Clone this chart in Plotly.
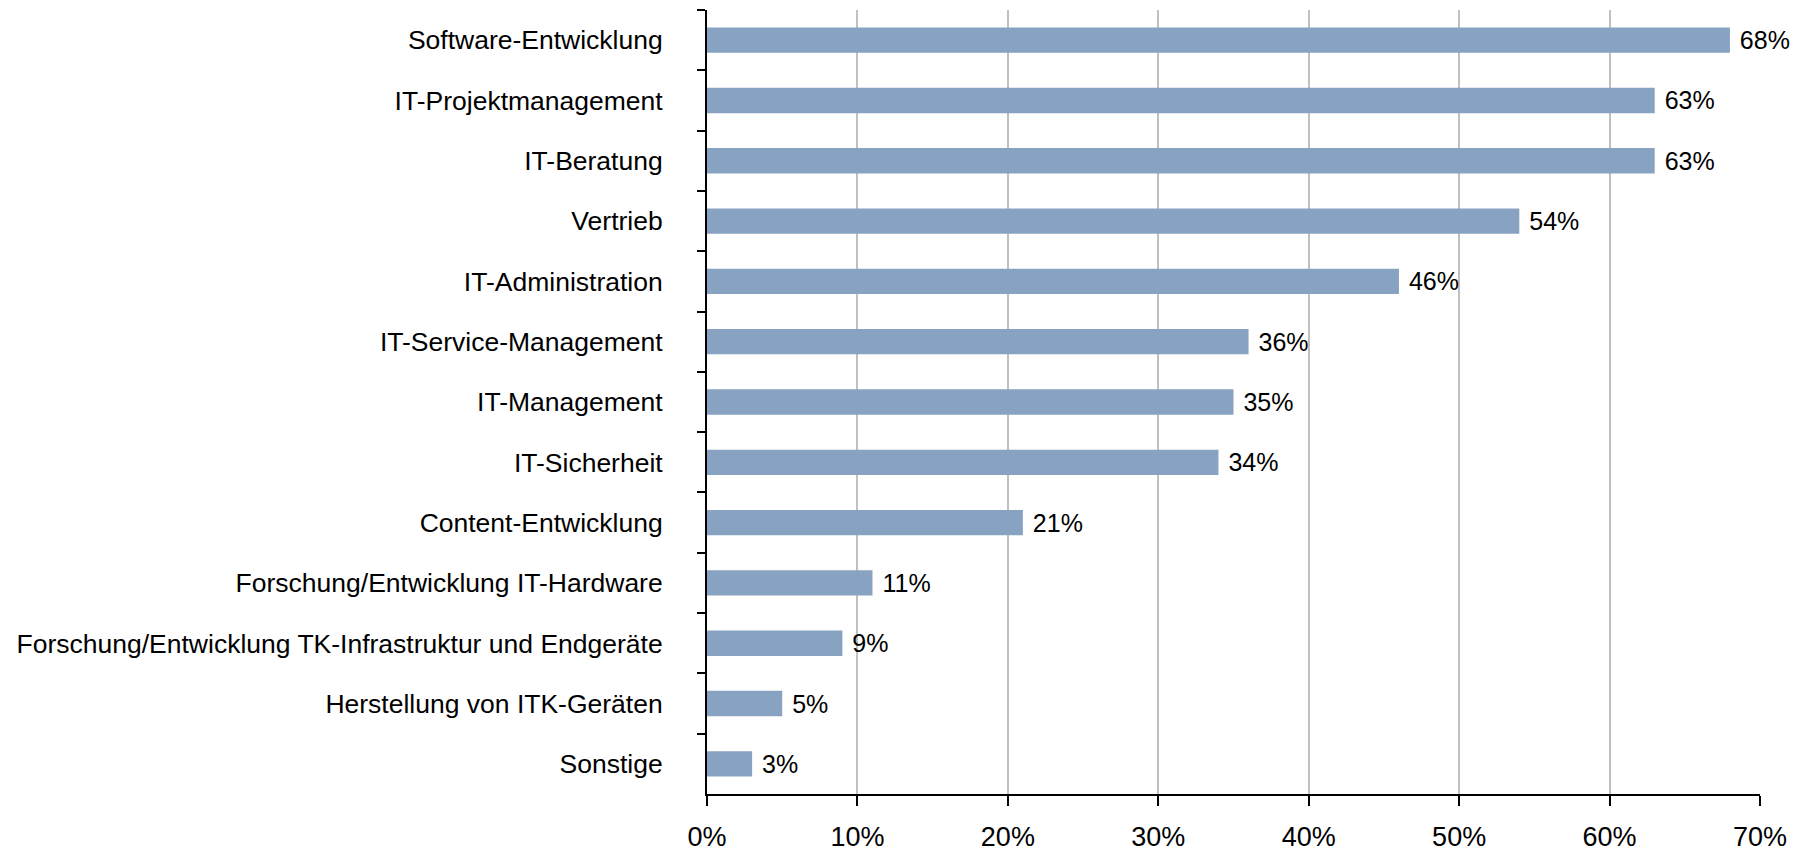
import plotly.graph_objects as go

categories = [
    "Software-Entwicklung",
    "IT-Projektmanagement",
    "IT-Beratung",
    "Vertrieb",
    "IT-Administration",
    "IT-Service-Management",
    "IT-Management",
    "IT-Sicherheit",
    "Content-Entwicklung",
    "Forschung/Entwicklung IT-Hardware",
    "Forschung/Entwicklung TK-Infrastruktur und Endgeräte",
    "Herstellung von ITK-Geräten",
    "Sonstige",
]
values = [68, 63, 63, 54, 46, 36, 35, 34, 21, 11, 9, 5, 3]
x_ticks = [0, 10, 20, 30, 40, 50, 60, 70]

FONT = "Liberation Sans, Arial, sans-serif"

fig = go.Figure(
    go.Bar(
        x=values,
        y=categories,
        orientation="h",
        marker=dict(color="#87A3C1", line=dict(width=0)),
        text=[f"\u00a0{v}%" for v in values],
        textposition="outside",
        constraintext="none",
        textfont=dict(family=FONT, size=25, color="black"),
        cliponaxis=False,
        width=0.42,
    )
)

# The page body has an 8px margin, so the figure is sized/offset to compensate.
fig.update_layout(
    width=1797,
    height=843,
    margin=dict(l=699, r=45, t=2, b=57, autoexpand=False),
    paper_bgcolor="white",
    plot_bgcolor="white",
    showlegend=False,
    font=dict(family=FONT, color="black"),
)

fig.update_xaxes(
    range=[0, 70],
    tickvals=x_ticks,
    ticktext=[f"{t}%" for t in x_ticks],
    showgrid=True,
    gridcolor="#c0c0c0",
    gridwidth=2,
    showline=True,
    linecolor="black",
    linewidth=2,
    ticks="outside",
    ticklen=10,
    tickwidth=2,
    tickcolor="black",
    tickfont=dict(family=FONT, size=27, color="black"),
    zeroline=False,
    ticklabelstandoff=8,
    automargin=False,
)

fig.update_yaxes(
    categoryorder="array",
    categoryarray=categories,
    range=[12.5, -0.5],
    showgrid=False,
    showline=True,
    linecolor="black",
    linewidth=2,
    ticks="outside",
    tickson="boundaries",
    ticklen=8,
    tickwidth=2,
    tickcolor="black",
    tickfont=dict(family=FONT, size=26.5, color="black"),
    ticklabelstandoff=37,
    automargin=False,
)

fig.write_html("out.html")
